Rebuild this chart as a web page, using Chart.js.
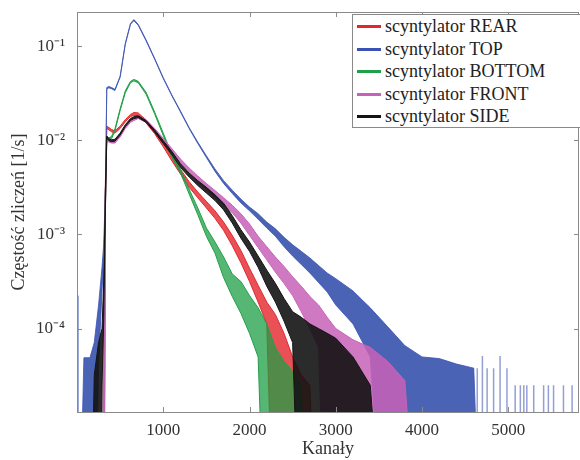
<!DOCTYPE html>
<html>
<head>
<meta charset="utf-8">
<title>Widma scyntylatorów</title>
<script src="https://cdn.jsdelivr.net/npm/chart.js@4.4.1/dist/chart.umd.min.js"></script>
<style>
  html, body { margin: 0; padding: 0; background: #fff; }
  #wrap { position: relative; width: 580px; height: 460px; overflow: hidden; }
  #legend {
    position: absolute; left: 352px; top: 14px; width: 240px; height: 112px;
    border: 1px solid #8a8a8a; background: #fff;
    font: 18px 'Liberation Serif', 'Times New Roman', serif; color: #222;
  }
  .row { position: absolute; left: 0; height: 22px; line-height: 22px; white-space: nowrap; }
  .row i { position: absolute; left: 4px; top: 10px; width: 24px; height: 3px; }
  .row span { position: absolute; left: 32px; }
</style>
</head>
<body>
<div id="wrap">
  <canvas id="chart" width="580" height="460"></canvas>
  <div id="legend"></div>
</div>
<script>
// --- DATA (count rate in 1/s; hi/lo = top/bottom of the noisy trace) ---
const Z = 1e-7; // zero counts, sits below the axis

const channels = [0, 10, 80, 150, 200, 250, 290, 310, 330, 345, 370, 400, 440, 500, 560, 620, 660, 710,
    800, 900, 1000, 1100, 1200, 1300, 1400, 1500, 1600, 1700, 1800, 1900, 2000, 2100, 2200, 2300, 2400,
    2500, 2600, 2700, 2800, 2900, 3000, 3200, 3400, 3600, 3800, 4000, 4200, 4400, 4600, 4700];

const rearHi = [Z, Z, Z, Z, Z, Z, Z, 3.16e-4, 3.98e-3, 0.0141, 0.01365, 0.0130, 0.0126, 0.0141, 0.0166, 0.0188,
    0.0197, 0.0195, 0.0164, 0.01274, 0.00933, 0.00668, 0.0049, 0.00363, 0.00282, 0.00224, 0.00178, 0.00135,
    9.77e-4, 6.76e-4, 4.37e-4, 2.88e-4, 1.91e-4, 1.41e-4, 8.9e-5, 5.0e-5, 3.2e-5, 2.5e-5, Z, Z, Z, Z, Z, Z, Z, Z, Z, Z, Z, Z];
const rearLo = [Z, Z, Z, Z, Z, Z, Z, Z, 2.51e-3, 0.01334, 0.01288, 0.0123, 0.0119, 0.01334, 0.01567, 0.0178,
    0.0184, 0.0182, 0.0153, 0.01175, 0.00851, 0.00603, 0.00437, 0.00316, 0.00245, 0.00191, 0.00148, 0.0011,
    7.59e-4, 5.01e-4, 3.16e-4, 1.91e-4, 1.12e-4, Z, Z, Z, Z, Z, Z, Z, Z, Z, Z, Z, Z, Z, Z, Z, Z, Z];

const topHi = [2.24e-4, Z, 4.9e-5, 4.9e-5, 7.1e-5, 1.78e-4, 4.47e-4, 7.94e-4, 3.16e-3, 0.0363, 0.0372, 0.0363,
    0.0347, 0.0479, 0.107, 0.174, 0.191, 0.170, 0.117, 0.0741, 0.0462, 0.0302, 0.0204, 0.01365, 0.00955,
    0.00684, 0.00495, 0.00372, 0.00295, 0.00237, 0.00195, 0.00166, 0.00135, 0.00115, 9.33e-4, 7.76e-4,
    6.61e-4, 5.62e-4, 4.68e-4, 3.89e-4, 3.39e-4, 2.51e-4, 1.66e-4, 1.05e-4, 6.6e-5, 5.0e-5, 4.8e-5, 4.2e-5,
    3.8e-5, Z];
const topLo = [Z, Z, Z, Z, Z, 3.98e-5, 2.51e-4, 5.62e-4, 2.0e-3, 0.0350, 0.0360, 0.0352, 0.0337, 0.0466, 0.104,
    0.170, 0.186, 0.166, 0.114, 0.0726, 0.0452, 0.0296, 0.0199, 0.0133, 0.00925, 0.00656, 0.00466, 0.00347,
    0.00272, 0.00216, 0.00178, 0.00145, 0.00117, 9.55e-4, 7.41e-4, 5.89e-4, 4.79e-4, 3.89e-4, 3.09e-4,
    2.45e-4, 1.78e-4, 1.12e-4, 5.0e-5, Z, Z, Z, Z, Z, Z, Z];

const bottomHi = [Z, Z, Z, Z, Z, Z, Z, 2.51e-4, 3.16e-3, 0.01096, 0.0106, 0.01096, 0.0132, 0.0216, 0.0335,
    0.0422, 0.0442, 0.0422, 0.0324, 0.01995, 0.0119, 0.00708, 0.0049, 0.00302, 0.00191, 0.00117, 8.3e-4,
    5.75e-4, 3.8e-4, 3.16e-4, 2.24e-4, 1.66e-4, 1.12e-4, 6.3e-5, 4.5e-5, 3.5e-5, 2.5e-5, Z, Z, Z, Z, Z, Z,
    Z, Z, Z, Z, Z, Z, Z];
const bottomLo = [Z, Z, Z, Z, Z, Z, Z, Z, 2.0e-3, 0.01035, 0.0100, 0.01035, 0.0126, 0.02065, 0.032, 0.0407,
    0.0427, 0.0407, 0.0309, 0.01905, 0.0112, 0.00661, 0.00447, 0.00269, 0.00162, 9.55e-4, 6.31e-4, 3.47e-4,
    2.19e-4, 1.45e-4, 8.9e-5, 5.0e-5, Z, Z, Z, Z, Z, Z, Z, Z, Z, Z, Z, Z, Z, Z, Z, Z, Z, Z];

const frontHi = [Z, Z, Z, Z, Z, Z, Z, 5.01e-4, 3.16e-3, 0.01035, 0.0100, 0.00977, 0.00977, 0.01135, 0.01396,
    0.0162, 0.017, 0.018, 0.0166, 0.01334, 0.01047, 0.00813, 0.00631, 0.00507, 0.00417, 0.00347, 0.00292,
    0.00245, 0.00204, 0.00166, 0.00129, 9.55e-4, 7.41e-4, 5.75e-4, 4.57e-4, 3.55e-4, 2.82e-4, 2.19e-4,
    1.78e-4, 1.32e-4, 1.0e-4, 7.6e-5, 6.3e-5, 4.5e-5, 2.8e-5, Z, Z, Z, Z, Z];
const frontLo = [Z, Z, Z, Z, Z, Z, Z, Z, 2.0e-3, 0.00989, 0.00955, 0.00933, 0.00933, 0.01084, 0.01334, 0.0155,
    0.0162, 0.017, 0.0155, 0.01245, 0.00955, 0.00741, 0.00575, 0.00452, 0.00363, 0.00302, 0.00248, 0.00204,
    0.0017, 0.00132, 9.77e-4, 7.24e-4, 5.37e-4, 3.98e-4, 3.02e-4, 2.24e-4, 1.51e-4, 1.0e-4, 6.3e-5, Z, Z,
    Z, Z, Z, Z, Z, Z, Z, Z, Z];

const sideHi = [Z, Z, Z, Z, 3.2e-5, 7.1e-5, 1.0e-4, 3.16e-4, 3.16e-3, 0.01109, 0.01035, 0.01012, 0.01023,
    0.0119, 0.01462, 0.017, 0.0178, 0.0182, 0.0162, 0.01288, 0.00989, 0.00759, 0.00562, 0.00447, 0.00372,
    0.00316, 0.00263, 0.00214, 0.00158, 0.00112, 8.3e-4, 5.89e-4, 4.17e-4, 3.02e-4, 2.09e-4, 1.51e-4,
    1.32e-4, 1.12e-4, 1.0e-4, 8.9e-5, 7.9e-5, 5.0e-5, 2.5e-5, Z, Z, Z, Z, Z, Z, Z];
const sideLo = [Z, Z, Z, Z, Z, Z, 2.5e-5, 1.26e-4, 2.0e-3, 0.0106, 0.00989, 0.00966, 0.00977, 0.01135,
    0.01396, 0.0162, 0.017, 0.0174, 0.0155, 0.01216, 0.00923, 0.007, 0.00513, 0.00407, 0.00331, 0.00275,
    0.00229, 0.00182, 0.00132, 9.12e-4, 6.61e-4, 4.47e-4, 2.82e-4, 1.91e-4, 1.2e-4, 7.1e-5, Z, Z, Z, Z, Z,
    Z, Z, Z, Z, Z, Z, Z, Z, Z];

// sparse single counts far in the TOP tail
const topSpikeCh = [4640, 4700, 4755, 4830, 4905, 4985, 5080, 5140, 5180, 5215, 5295, 5410, 5465, 5525, 5640, 5740];
const topSpikeVal = [3.8e-5, 5.1e-5, 3.8e-5, 3.8e-5, 5.1e-5, 3.8e-5, 2.5e-5, 2.5e-5, 2.5e-5, 2.5e-5, 2.5e-5,
    2.5e-5, 2.5e-5, 2.5e-5, 2.5e-5, 2.5e-5];

const xTicks = [1000, 2000, 3000, 4000, 5000];
const yTicks = [1e-4, 1e-3, 1e-2, 1e-1];
const yTickLabels = ['10⁻⁴', '10⁻³', '10⁻²', '10⁻¹'];

// --- SERIES STYLE ---
const series = [
    { name: 'scyntylator REAR', hi: rearHi, lo: rearLo, color: '#e3262c', fill: 'rgba(227,38,44,0.8)', width: 1, order: 5 },
    { name: 'scyntylator TOP', hi: topHi, lo: topLo, color: '#3a52b4', fill: 'rgba(44,72,168,0.85)', width: 0.8, order: 4 },
    { name: 'scyntylator BOTTOM', hi: bottomHi, lo: bottomLo, color: '#20a048', fill: 'rgba(30,158,70,0.75)', width: 1, order: 3 },
    { name: 'scyntylator FRONT', hi: frontHi, lo: frontLo, color: '#c862b8', fill: 'rgba(200,98,184,0.85)', width: 1, order: 2 },
    { name: 'scyntylator SIDE', hi: sideHi, lo: sideLo, color: '#141414', fill: 'rgba(20,20,20,0.9)', width: 1, order: 1 },
];

const FONT = "'Liberation Serif', 'Times New Roman', serif";

const toPoints = (vals) => channels.map((c, i) => ({ x: c, y: vals[i] }));

const datasets = [];
series.forEach((s) => {
    datasets.push({
        label: s.name, data: toPoints(s.hi), borderColor: s.color, borderWidth: s.width,
        pointRadius: 0, fill: false, order: s.order,
    });
    datasets.push({
        label: s.name + ' lo', data: toPoints(s.lo), borderColor: s.color, borderWidth: s.width,
        pointRadius: 0, fill: '-1', backgroundColor: s.fill, order: s.order,
    });
});

const spikePoints = [];
topSpikeCh.forEach((c, i) => {
    spikePoints.push({ x: c, y: Z }, { x: c, y: topSpikeVal[i] }, { x: c, y: Z });
});
datasets.push({
    label: 'TOP tail', data: spikePoints, borderColor: 'rgba(60,80,180,0.55)', borderWidth: 1.5,
    pointRadius: 0, fill: false, order: 4,
});

// --- FRAME + INNER TICKS (matlab style box) ---
const framePlugin = {
    id: 'frame',
    afterDraw(chart) {
        const { ctx, chartArea: a, scales } = chart;
        ctx.save();
        ctx.strokeStyle = '#8a8a8a';
        ctx.lineWidth = 1;
        ctx.strokeRect(a.left + 0.5, a.top + 0.5, a.right - a.left - 1, a.bottom - a.top);
        ctx.beginPath();
        xTicks.forEach((v) => {
            const p = Math.round(scales.x.getPixelForValue(v)) + 0.5;
            ctx.moveTo(p, a.bottom); ctx.lineTo(p, a.bottom - 5);
            ctx.moveTo(p, a.top); ctx.lineTo(p, a.top + 5);
        });
        yTicks.forEach((v) => {
            const p = Math.round(scales.y.getPixelForValue(v)) + 0.5;
            ctx.moveTo(a.left, p); ctx.lineTo(a.left + 5, p);
            ctx.moveTo(a.right, p); ctx.lineTo(a.right - 5, p);
        });
        ctx.stroke();
        ctx.restore();
    },
};

new Chart(document.getElementById('chart'), {
    type: 'line',
    data: { datasets },
    options: {
        responsive: false,
        animation: false,
        devicePixelRatio: 1,
        layout: { padding: { top: 12, right: 1, left: 0, bottom: 0 } },
        plugins: { legend: { display: false }, tooltip: { enabled: false } },
        scales: {
            x: {
                type: 'linear', min: 0, max: 5820,
                afterBuildTicks: (s) => { s.ticks = xTicks.map((v) => ({ value: v })); },
                afterFit: (s) => { s.height = 48; s.paddingLeft = 0; s.paddingRight = 0; },
                grid: { display: false, drawTicks: false },
                border: { display: false },
                ticks: {
                    font: { family: FONT, size: 17 }, color: '#333', padding: 8, maxRotation: 0,
                    callback: (v) => String(v),
                },
                title: { display: true, text: 'Kanały', font: { family: FONT, size: 18 }, color: '#333', padding: 0 },
            },
            y: {
                type: 'logarithmic', min: 1.3e-5, max: 0.23,
                afterBuildTicks: (s) => { s.ticks = yTicks.map((v) => ({ value: v })); },
                afterFit: (s) => { s.width = 77; s.paddingTop = 0; s.paddingBottom = 0; },
                grid: { display: false, drawTicks: false },
                border: { display: false },
                ticks: {
                    font: { family: FONT, size: 17 }, color: '#333', padding: 12,
                    callback: (v) => yTickLabels[yTicks.indexOf(v)] || '',
                },
                title: {
                    display: true, text: 'Częstość zliczeń [1/s]', font: { family: FONT, size: 18 },
                    color: '#333', padding: { top: 8, bottom: 0 },
                },
            },
        },
    },
    plugins: [framePlugin],
});

// --- LEGEND BOX ---
const legend = document.getElementById('legend');
const rowTops = [0, 23, 45, 68, 90];
series.forEach((s, i) => {
    const row = document.createElement('div');
    row.className = 'row';
    row.style.top = rowTops[i] + 'px';
    row.innerHTML = `<i style="background:${s.color}"></i><span>${s.name}</span>`;
    legend.appendChild(row);
});
</script>
</body>
</html>
